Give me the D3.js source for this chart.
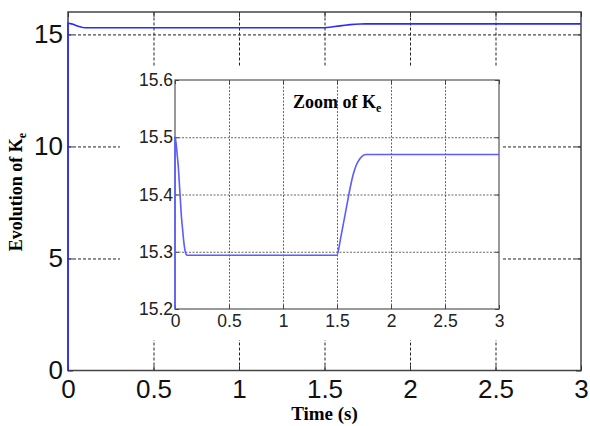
<!DOCTYPE html>
<html>
<head>
<meta charset="utf-8">
<script src="https://cdn.jsdelivr.net/npm/d3@7"></script>
<style>
  html, body { margin: 0; padding: 0; background: #fff; }
  svg { display: block; }
</style>
</head>
<body>
<svg id="chart" width="590" height="426"></svg>
<script>
// ---- data ----
const timeS = [0, 0, 0.01, 0.02, 0.03, 0.04, 0.05, 0.06, 0.07, 0.08, 0.09, 0.10, 0.11, 1.50, 1.53, 1.56, 1.59, 1.62, 1.65, 1.68, 1.71, 1.74, 1.77, 3.0];
const keValues = [0, 15.5, 15.49, 15.47, 15.45, 15.42, 15.39, 15.36, 15.34, 15.32, 15.305, 15.297, 15.294, 15.294, 15.32, 15.35, 15.38, 15.41, 15.435, 15.452, 15.462, 15.468, 15.47, 15.47];
const mainXTicks = [0, 0.5, 1, 1.5, 2, 2.5, 3];
const mainYTicks = [0, 5, 10, 15];
const zoomXTicks = [0, 0.5, 1, 1.5, 2, 2.5, 3];
const zoomYTicks = [15.2, 15.3, 15.4, 15.5, 15.6];
const labels = { x: "Time (s)", y: "Evolution of K", ySub: "e", zoom: "Zoom of K", zoomSub: "e" };

const svg = d3.select("#chart");
const pts = timeS.map((t, i) => [t, keValues[i]]);

// ---- main axes ----
const M = { l: 68, r: 581, t: 12, b: 370.5 };
const x = d3.scaleLinear().domain([0, 3]).range([M.l, M.r]);
const y = d3.scaleLinear().domain([0, 16]).range([M.b, M.t]);

// main grid
const gMainGrid = svg.append("g");
gMainGrid.append("g").attr("transform", `translate(0,${M.b})`)
  .call(d3.axisBottom(x).tickValues(mainXTicks.filter(v => v > 0 && v < 3)).tickSize(-(M.b - M.t)).tickFormat(""))
  .call(g => g.select(".domain").remove());
gMainGrid.append("g").attr("transform", `translate(${M.l},0)`)
  .call(d3.axisLeft(y).tickValues(mainYTicks.filter(v => v > 0)).tickSize(-(M.r - M.l)).tickFormat(""))
  .call(g => g.select(".domain").remove());
gMainGrid.selectAll("line").attr("stroke", "#222").attr("stroke-width", 1).attr("stroke-dasharray", "3,2");

// main frame
svg.append("rect").attr("x", M.l).attr("y", M.t).attr("width", M.r - M.l).attr("height", M.b - M.t)
  .attr("fill", "none").attr("stroke", "#444").attr("stroke-width", 1.5);

// main ticks (inside) and labels
const tickCol = "#333";
const gmx = svg.append("g").attr("transform", `translate(0,${M.b})`)
  .call(d3.axisBottom(x).tickValues(mainXTicks).tickSize(-5).tickPadding(9).tickFormat(d3.format("")));
const gmxTop = svg.append("g").attr("transform", `translate(0,${M.t})`)
  .call(d3.axisTop(x).tickValues(mainXTicks).tickSize(-5).tickFormat(""));
const gmy = svg.append("g").attr("transform", `translate(${M.l},0)`)
  .call(d3.axisLeft(y).tickValues(mainYTicks).tickSize(-5).tickPadding(5).tickFormat(d3.format("")));
const gmyR = svg.append("g").attr("transform", `translate(${M.r},0)`)
  .call(d3.axisRight(y).tickValues(mainYTicks).tickSize(-5).tickFormat(""));
[gmx, gmxTop, gmy, gmyR].forEach(g => {
  g.select(".domain").remove();
  g.selectAll("line").attr("stroke", tickCol).attr("stroke-width", 1);
  g.selectAll("text").attr("font-family", "Liberation Sans, Arial, sans-serif").attr("font-size", 26).attr("fill", "#111");
});
gmy.selectAll("text").attr("x", -5);

// main line
svg.append("path").datum(pts)
  .attr("d", d3.line().x(d => x(d[0])).y(d => y(d[1])))
  .attr("fill", "none").attr("stroke", "#2a2aff").attr("stroke-width", 1.6);

// ---- inset ----
const Z = { l: 175, r: 499, t: 80, b: 309 };
const zx = d3.scaleLinear().domain([0, 3]).range([Z.l, Z.r]);
const zy = d3.scaleLinear().domain([15.2, 15.6]).range([Z.b, Z.t]);

svg.append("rect").attr("x", 120).attr("y", 67).attr("width", 382).attr("height", 273).attr("fill", "#fff");

const gZGrid = svg.append("g");
gZGrid.append("g").attr("transform", `translate(0,${Z.b})`)
  .call(d3.axisBottom(zx).tickValues(zoomXTicks.filter(v => v > 0 && v < 3)).tickSize(-(Z.b - Z.t)).tickFormat(""))
  .call(g => g.select(".domain").remove());
gZGrid.append("g").attr("transform", `translate(${Z.l},0)`)
  .call(d3.axisLeft(zy).tickValues(zoomYTicks.filter(v => v > 15.2 && v < 15.6)).tickSize(-(Z.r - Z.l)).tickFormat(""))
  .call(g => g.select(".domain").remove());
gZGrid.selectAll("line").attr("stroke", "#666").attr("stroke-width", 1).attr("stroke-dasharray", "2,1.5");

// inset frame
svg.append("rect").attr("x", Z.l).attr("y", Z.t).attr("width", Z.r - Z.l).attr("height", Z.b - Z.t)
  .attr("fill", "none").attr("stroke", "#777").attr("stroke-width", 1.5);

const gzx = svg.append("g").attr("transform", `translate(0,${Z.b})`)
  .call(d3.axisBottom(zx).tickValues(zoomXTicks).tickSize(-4).tickPadding(6).tickFormat(d3.format("")));
const gzxTop = svg.append("g").attr("transform", `translate(0,${Z.t})`)
  .call(d3.axisTop(zx).tickValues(zoomXTicks).tickSize(-4).tickFormat(""));
const gzy = svg.append("g").attr("transform", `translate(${Z.l},0)`)
  .call(d3.axisLeft(zy).tickValues(zoomYTicks).tickSize(-4).tickPadding(2).tickFormat(d3.format(".1f")));
const gzyR = svg.append("g").attr("transform", `translate(${Z.r},0)`)
  .call(d3.axisRight(zy).tickValues(zoomYTicks).tickSize(-4).tickFormat(""));
[gzx, gzxTop, gzy, gzyR].forEach(g => {
  g.select(".domain").remove();
  g.selectAll("line").attr("stroke", "#444").attr("stroke-width", 1);
  g.selectAll("text").attr("font-family", "Liberation Sans, Arial, sans-serif").attr("font-size", 17.5).attr("fill", "#222");
});
gzy.selectAll("text").attr("x", -2);

svg.append("clipPath").attr("id", "zclip").append("rect")
  .attr("x", Z.l - 1).attr("y", Z.t).attr("width", Z.r - Z.l + 1).attr("height", Z.b - Z.t);
svg.append("path").datum(pts)
  .attr("clip-path", "url(#zclip)")
  .attr("d", d3.line().curve(d3.curveMonotoneX).x(d => zx(d[0])).y(d => zy(d[1])))
  .attr("fill", "none").attr("stroke", "#5c5cff").attr("stroke-width", 1.6);

// inset title
const zt = svg.append("text").attr("x", 293).attr("y", 108)
  .attr("font-family", "Liberation Serif, Times New Roman, serif").attr("font-weight", "bold")
  .attr("font-size", 18).attr("fill", "#000");
zt.append("tspan").text(labels.zoom);
zt.append("tspan").text(labels.zoomSub).attr("font-size", 12).attr("dy", 4);

// axis labels
svg.append("text").attr("x", (M.l + M.r) / 2).attr("y", 420)
  .attr("text-anchor", "middle")
  .attr("font-family", "Liberation Serif, Times New Roman, serif").attr("font-weight", "bold")
  .attr("font-size", 19).attr("fill", "#000").text(labels.x);

const yl = svg.append("text").attr("transform", "translate(22,192) rotate(-90)")
  .attr("text-anchor", "middle")
  .attr("font-family", "Liberation Serif, Times New Roman, serif").attr("font-weight", "bold")
  .attr("font-size", 18).attr("fill", "#000");
yl.append("tspan").text(labels.y);
yl.append("tspan").text(labels.ySub).attr("font-size", 12).attr("dy", 4);
</script>
</body>
</html>
